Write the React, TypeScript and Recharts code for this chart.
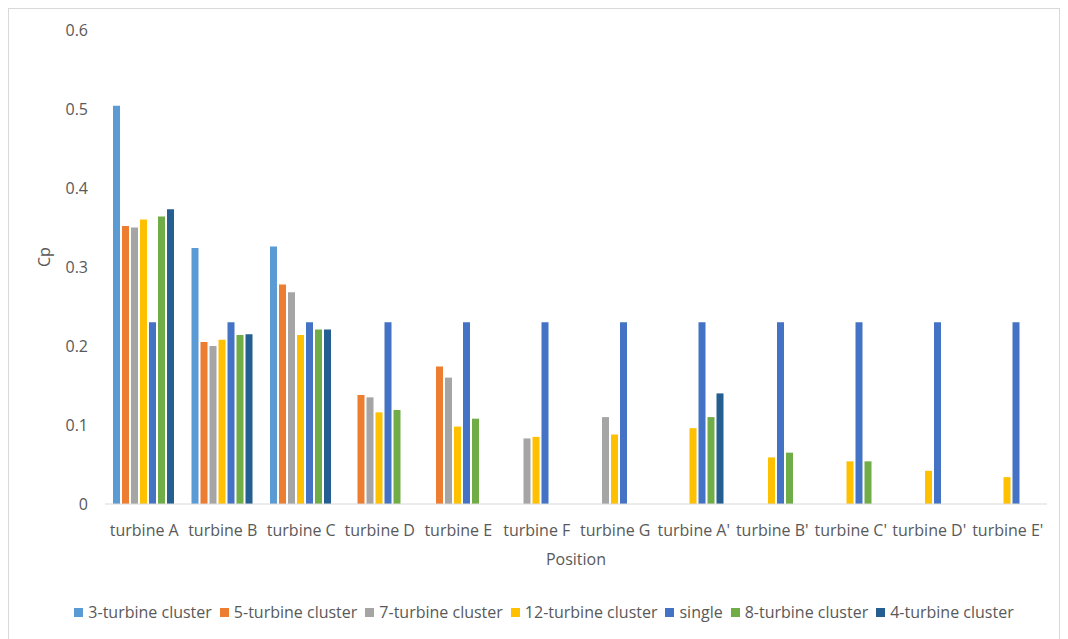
import React from 'react';
import { BarChart, Bar, XAxis, YAxis, Legend } from 'recharts';

// Turbine positions along the cluster
const positions = [
  'turbine A', 'turbine B', 'turbine C', 'turbine D', 'turbine E', 'turbine F',
  'turbine G', "turbine A'", "turbine B'", "turbine C'", "turbine D'", "turbine E'",
];

// Power coefficient Cp per position for each layout (null = no turbine there)
const cluster3 = [0.504, 0.324, 0.326, null, null, null, null, null, null, null, null, null];
const cluster5 = [0.352, 0.205, 0.278, 0.138, 0.174, null, null, null, null, null, null, null];
const cluster7 = [0.35, 0.2, 0.268, 0.135, 0.16, 0.083, 0.11, null, null, null, null, null];
const cluster12 = [0.36, 0.208, 0.214, 0.116, 0.098, 0.085, 0.088, 0.096, 0.059, 0.054, 0.042, 0.034];
const single = [0.23, 0.23, 0.23, 0.23, 0.23, 0.23, 0.23, 0.23, 0.23, 0.23, 0.23, 0.23];
const cluster8 = [0.364, 0.214, 0.221, 0.119, 0.108, null, null, 0.11, 0.065, 0.054, null, null];
const cluster4 = [0.373, 0.215, 0.221, null, null, null, null, 0.14, null, null, null, null];

const yTicks = [0, 0.1, 0.2, 0.3, 0.4, 0.5, 0.6];

const seriesList = [
  { key: 'c3', name: '3-turbine cluster', values: cluster3, color: '#5B9BD5' },
  { key: 'c5', name: '5-turbine cluster', values: cluster5, color: '#ED7D31' },
  { key: 'c7', name: '7-turbine cluster', values: cluster7, color: '#A5A5A5' },
  { key: 'c12', name: '12-turbine cluster', values: cluster12, color: '#FFC000' },
  { key: 'single', name: 'single', values: single, color: '#4472C4' },
  { key: 'c8', name: '8-turbine cluster', values: cluster8, color: '#70AD47' },
  { key: 'c4', name: '4-turbine cluster', values: cluster4, color: '#255E91' },
];

const data = positions.map((position, i) => {
  const row: Record<string, string | number | null> = { position };
  seriesList.forEach((s) => {
    row[s.key] = s.values[i];
  });
  return row;
});

const FONT = '"Open Sans", Calibri, sans-serif';
const TEXT = '#595959';

// Legend in series order: small square swatch followed by the series name
const SeriesLegend = () => (
  <div
    style={{
      display: 'flex',
      justifyContent: 'center',
      alignItems: 'center',
      height: 20,
      paddingLeft: 32,
      fontSize: 16,
      fontFamily: FONT,
      color: TEXT,
      whiteSpace: 'nowrap',
    }}
  >
    {seriesList.map((s, i) => (
      <div
        key={s.key}
        style={{
          display: 'flex',
          alignItems: 'center',
          marginRight: i === seriesList.length - 1 ? 0 : 8,
        }}
      >
        <span
          style={{
            display: 'inline-block',
            width: 9,
            height: 9,
            background: s.color,
            marginRight: 5,
          }}
        />
        <span>{s.name}</span>
      </div>
    ))}
  </div>
);

export default function App() {
  return (
    <div
      style={{
        width: 1052,
        height: 640,
        border: '1px solid #d9d9d9',
        boxSizing: 'border-box',
        fontFamily: FONT,
        background: '#fff',
      }}
    >
      <BarChart
        width={1050}
        height={630}
        data={data}
        margin={{ top: 21, right: 12, left: 0, bottom: 17 }}
        barCategoryGap={8}
        barGap={2}
      >
        <XAxis
          dataKey="position"
          height={98}
          axisLine={{ stroke: '#d9d9d9' }}
          tickLine={false}
          tickMargin={15}
          interval={0}
          tick={{ fill: TEXT, fontSize: 16, fontFamily: FONT }}
          label={{
            value: 'Position',
            position: 'insideBottom',
            offset: 37,
            fill: TEXT,
            fontSize: 16,
            fontFamily: FONT,
          }}
        />
        <YAxis
          width={96}
          domain={[0, 0.6]}
          ticks={yTicks}
          axisLine={false}
          tickLine={false}
          tickSize={0}
          tickMargin={17}
          tick={{ fill: TEXT, fontSize: 16, fontFamily: FONT }}
          label={{
            value: 'Cp',
            angle: -90,
            position: 'insideLeft',
            offset: 35,
            fill: TEXT,
            fontSize: 16,
            fontFamily: FONT,
          }}
        />
        <Legend verticalAlign="bottom" align="center" height={20} content={<SeriesLegend />} />
        {seriesList.map((s) => (
          <Bar
            key={s.key}
            dataKey={s.key}
            name={s.name}
            fill={s.color}
            isAnimationActive={false}
          />
        ))}
      </BarChart>
    </div>
  );
}
